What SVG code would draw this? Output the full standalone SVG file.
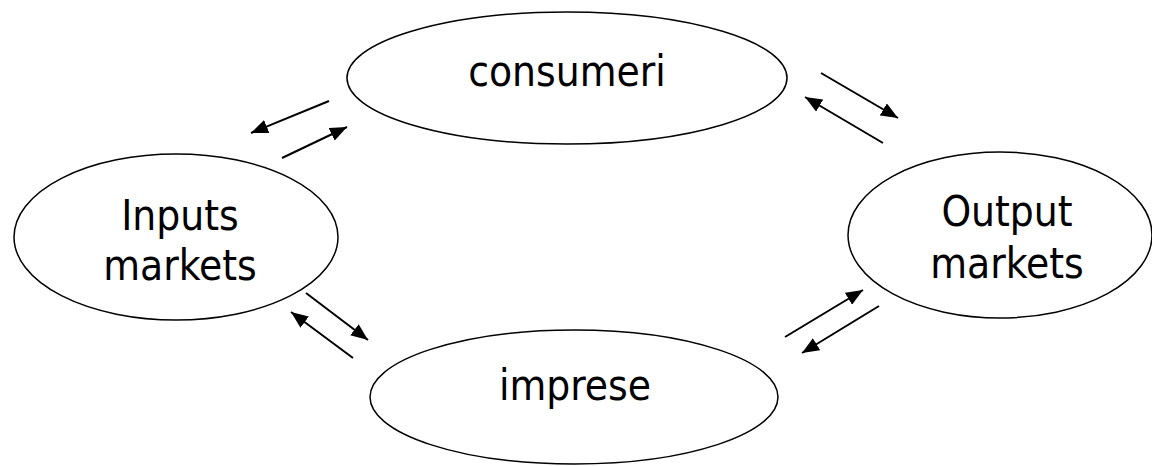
<svg xmlns="http://www.w3.org/2000/svg" width="1152" height="466" viewBox="0 0 1152 466">
  <style>
    .node { fill: #ffffff; stroke: #000000; stroke-width: 1.5; }
    .label { font-family: "DejaVu Sans Condensed", "DejaVu Sans", sans-serif; font-stretch: condensed; font-size: 42px; fill: #000000; text-anchor: middle; }
    .flow { stroke: #000000; stroke-width: 2; fill: none; marker-end: url(#head); }
  </style>
  <defs>
    <marker id="head" markerUnits="userSpaceOnUse" markerWidth="18" markerHeight="14" refX="17" refY="7" orient="auto">
      <path d="M0,0 L17,7 L0,14 Z" fill="#000000"/>
    </marker>
  </defs>
  <rect width="1152" height="466" fill="#ffffff"/>

  <g id="consumeri">
    <ellipse class="node" cx="567" cy="78" rx="220" ry="66"/>
    <text class="label" x="567" y="86">consumeri</text>
  </g>

  <g id="inputs-markets">
    <ellipse class="node" cx="176" cy="237" rx="162" ry="83"/>
    <text class="label" x="180" y="230">Inputs</text>
    <text class="label" x="180" y="280">markets</text>
  </g>

  <g id="output-markets">
    <ellipse class="node" cx="1000" cy="235" rx="152" ry="83"/>
    <text class="label" x="1007" y="226">Output</text>
    <text class="label" x="1007" y="278">markets</text>
  </g>

  <g id="imprese">
    <ellipse class="node" cx="574" cy="397" rx="204" ry="67"/>
    <text class="label" x="575" y="400">imprese</text>
  </g>

  <g id="connectors">
    <line class="flow" x1="329" y1="101" x2="251" y2="133"/>
    <line class="flow" x1="282" y1="158" x2="347" y2="127"/>
    <line class="flow" x1="821" y1="73" x2="898" y2="118"/>
    <line class="flow" x1="883" y1="143" x2="805" y2="97"/>
    <line class="flow" x1="306" y1="293" x2="368" y2="340"/>
    <line class="flow" x1="353" y1="358" x2="291" y2="312"/>
    <line class="flow" x1="785" y1="337" x2="863" y2="290"/>
    <line class="flow" x1="879" y1="306" x2="802" y2="353"/>
  </g>
</svg>
